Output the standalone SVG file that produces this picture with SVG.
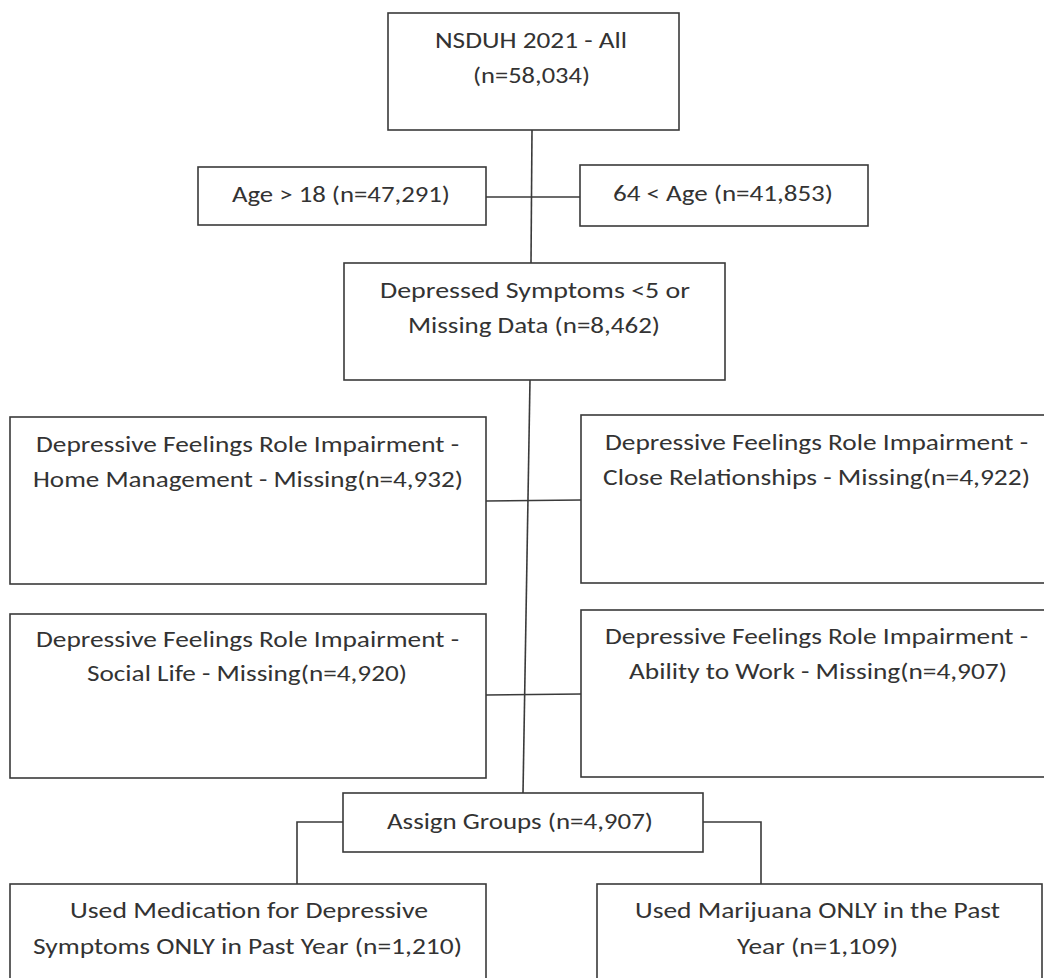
<svg xmlns="http://www.w3.org/2000/svg" width="1044" height="978" viewBox="0 0 1044 978">
<style>
.b{fill:#fff;stroke:#3a3a3a;stroke-width:1.6}
.c{fill:none;stroke:#3a3a3a;stroke-width:1.6}
text{font-family:Carlito,Lato,"Open Sans",sans-serif;font-size:22px;fill:#333}
</style>
<rect x="0" y="0" width="1044" height="978" fill="#fff"/>
<g id="connectors">
<path class="c" d="M532,130 L531,263"/>
<path class="c" d="M486,197 L580,197"/>
<path class="c" d="M530,380 L523,793"/>
<path class="c" d="M486,501 L581,500"/>
<path class="c" d="M486,695 L581,694"/>
<path class="c" d="M343,822 L297,822 L297,884"/>
<path class="c" d="M703,822 L761,822 L761,884"/>
</g>
<g id="n_all">
<rect class="b" x="388" y="13" width="291" height="117"/>
<text x="435" y="48" textLength="192" lengthAdjust="spacingAndGlyphs">NSDUH 2021 - All</text>
<text x="473" y="83" textLength="117" lengthAdjust="spacingAndGlyphs">(n=58,034)</text>
</g>
<g id="n_age18">
<rect class="b" x="198" y="167" width="288" height="58"/>
<text x="232" y="202" textLength="218" lengthAdjust="spacingAndGlyphs">Age &gt; 18 (n=47,291)</text>
</g>
<g id="n_age64">
<rect class="b" x="580" y="165" width="288" height="61"/>
<text x="613" y="201" textLength="220" lengthAdjust="spacingAndGlyphs">64 &lt; Age (n=41,853)</text>
</g>
<g id="n_dep">
<rect class="b" x="344" y="263" width="381" height="117"/>
<text x="380" y="298" textLength="310" lengthAdjust="spacingAndGlyphs">Depressed Symptoms &lt;5 or</text>
<text x="408" y="333" textLength="252" lengthAdjust="spacingAndGlyphs">Missing Data (n=8,462)</text>
</g>
<g id="n_home">
<rect class="b" x="10" y="417" width="476" height="167"/>
<text x="36" y="452" textLength="423" lengthAdjust="spacingAndGlyphs">Depressive Feelings Role Impairment -</text>
<text x="33" y="487" textLength="430" lengthAdjust="spacingAndGlyphs">Home Management - Missing(n=4,932)</text>
</g>
<g id="n_close">
<rect class="b" x="581" y="415" width="470" height="168"/>
<text x="605" y="450" textLength="423" lengthAdjust="spacingAndGlyphs">Depressive Feelings Role Impairment -</text>
<text x="603" y="485" textLength="427" lengthAdjust="spacingAndGlyphs">Close Relationships - Missing(n=4,922)</text>
</g>
<g id="n_social">
<rect class="b" x="10" y="614" width="476" height="164"/>
<text x="36" y="647" textLength="423" lengthAdjust="spacingAndGlyphs">Depressive Feelings Role Impairment -</text>
<text x="87" y="681" textLength="320" lengthAdjust="spacingAndGlyphs">Social Life - Missing(n=4,920)</text>
</g>
<g id="n_work">
<rect class="b" x="581" y="610" width="470" height="167"/>
<text x="605" y="644" textLength="423" lengthAdjust="spacingAndGlyphs">Depressive Feelings Role Impairment -</text>
<text x="629" y="679" textLength="378" lengthAdjust="spacingAndGlyphs">Ability to Work - Missing(n=4,907)</text>
</g>
<g id="n_assign">
<rect class="b" x="343" y="793" width="360" height="59"/>
<text x="387" y="829" textLength="266" lengthAdjust="spacingAndGlyphs">Assign Groups (n=4,907)</text>
</g>
<g id="n_med">
<rect class="b" x="10" y="884" width="476" height="110"/>
<text x="70" y="918" textLength="358" lengthAdjust="spacingAndGlyphs">Used Medication for Depressive</text>
<text x="33" y="954" textLength="429" lengthAdjust="spacingAndGlyphs">Symptoms ONLY in Past Year (n=1,210)</text>
</g>
<g id="n_mar">
<rect class="b" x="597" y="884" width="445" height="110"/>
<text x="635" y="918" textLength="365" lengthAdjust="spacingAndGlyphs">Used Marijuana ONLY in the Past</text>
<text x="737" y="954" textLength="161" lengthAdjust="spacingAndGlyphs">Year (n=1,109)</text>
</g>
</svg>
